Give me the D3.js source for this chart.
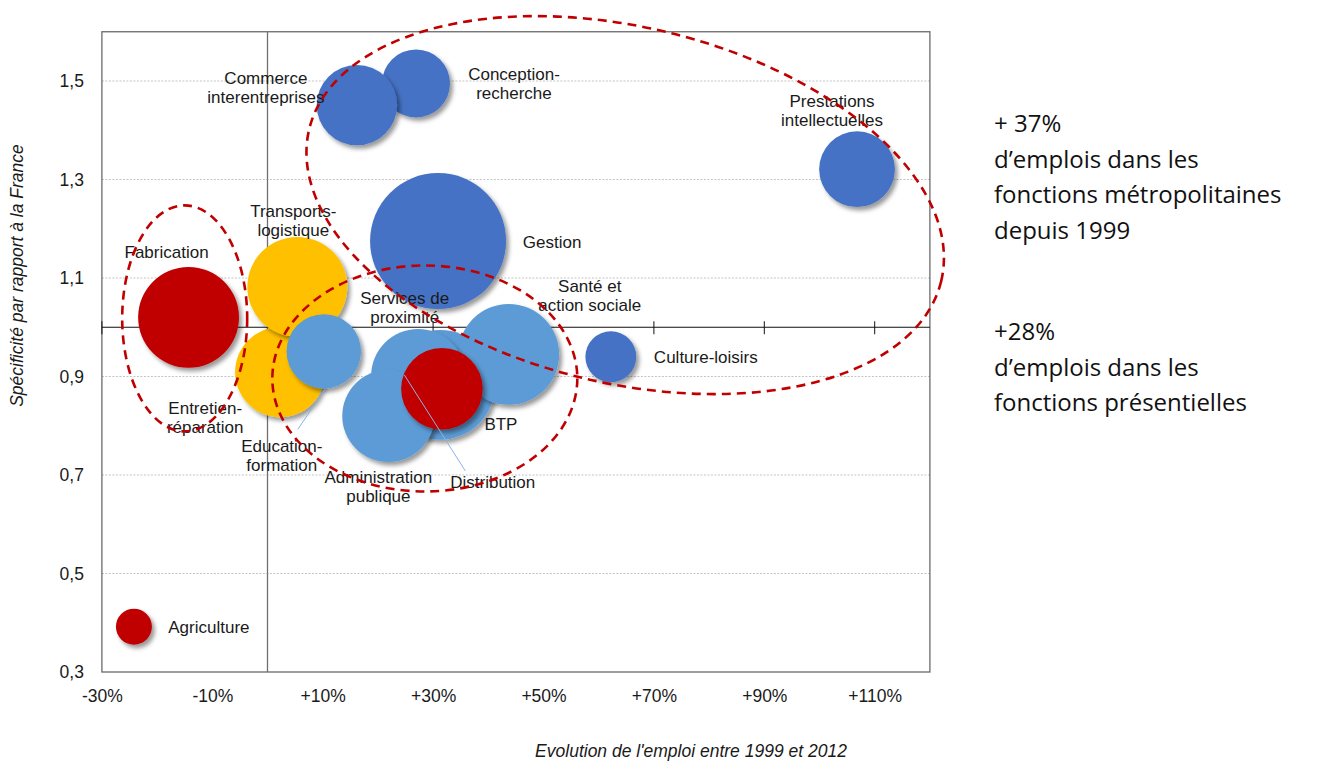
<!DOCTYPE html>
<html>
<head>
<meta charset="utf-8">
<script src="https://cdn.jsdelivr.net/npm/d3@7"></script>
<style>
  body { margin: 0; background: #fff; }
  #chart { width: 1320px; height: 761px; }
  text { font-family: "Liberation Sans", Arial, sans-serif; fill: #1a1a1a; }
  .note { font-family: "Open Sans", Lato, sans-serif; fill: #111; }
</style>
</head>
<body>
<div id="chart"></div>
<script>
// Fonctions (libellés), évolution de l'emploi 1999-2012 (%), spécificité, taille (emplois, indice)
const fonctions = ['Agriculture', 'Fabrication', 'Entretien-réparation', 'Transports-logistique',
    'Education-formation', 'Conception-recherche', 'Commerce interentreprises', 'Gestion',
    'Prestations intellectuelles', 'Culture-loisirs', 'Distribution', 'Santé et action sociale',
    'Services de proximité', 'Administration publique', 'BTP'];
const evolution = [-24.2, -14.3, 2.3, 5.4, 10.2, 26.9, 16.2, 30.9, 106.8, 62.2, 31.3, 43.7, 27.3, 21.9, 31.6];
const specificite = [0.392, 1.02, 0.909, 1.082, 0.951, 1.495, 1.451, 1.175, 1.321, 0.94, 0.883, 0.945, 0.901, 0.82, 0.875];
const taille = [7, 55, 44, 54, 30, 25, 35, 100, 31, 14, 65, 55, 48, 46, 36];
const famille = ['prod', 'prod', 'pres', 'pres', 'presBleu', 'metro', 'metro', 'metro',
    'metro', 'metro', 'presBleu', 'presBleu', 'presBleu', 'presBleu', 'prod'];

const xTicks = [-30, -10, 10, 30, 50, 70, 90, 110];
const yTicks = [0.3, 0.5, 0.7, 0.9, 1.1, 1.3, 1.5];

const noteMetro = ['+ 37%', 'd\u2019emplois dans les', 'fonctions métropolitaines', 'depuis 1999'];
const notePres = ['+28%', 'd\u2019emplois dans les', 'fonctions présentielles'];

const couleurs = {prod: '#C00000', pres: '#FFC000', metro: '#4472C4', presBleu: '#5B9BD5'};

// position des étiquettes (décalage en px depuis le centre de la bulle)
const etiquettes = {
    'Agriculture': {dx: 75, dy: 6.5, lines: ['Agriculture']},
    'Fabrication': {dx: -22, dy: -59.5, lines: ['Fabrication']},
    'Entretien-réparation': {dx: -75, dy: 42, lines: ['Entretien-', 'réparation']},
    'Transports-logistique': {dx: -4, dy: -70, lines: ['Transports-', 'logistique']},
    'Education-formation': {dx: -42, dy: 100.5, lines: ['Education-', 'formation'], leader: [[1, 38], [-26, 78]]},
    'Conception-recherche': {dx: 98, dy: -3.5, lines: ['Conception-', 'recherche']},
    'Commerce interentreprises': {dx: -91, dy: -21, lines: ['Commerce', 'interentreprises']},
    'Gestion': {dx: 114, dy: 7, lines: ['Gestion']},
    'Prestations intellectuelles': {dx: -25, dy: -62, lines: ['Prestations', 'intellectuelles']},
    'Culture-loisirs': {dx: 95, dy: 6, lines: ['Culture-loisirs']},
    'Distribution': {dx: 52.5, dy: 103, lines: ['Distribution'], leader: [[-36, -10], [25, 86]]},
    'Santé et action sociale': {dx: 81, dy: -62.5, lines: ['Santé et', 'action sociale']},
    'Services de proximité': {dx: -13.5, dy: -72, lines: ['Services de', 'proximité']},
    'Administration publique': {dx: -10, dy: 67, lines: ['Administration', 'publique']},
    'BTP': {dx: 59, dy: 41, lines: ['BTP']}
};

// ellipses en pointillés (centre en unités du graphique)
const ellipses = [
    {cx: 64.8, cy: 1.248, rx: 325, ry: 178, rot: 13.5},
    {cx: -15, cy: 1.018, rx: 62.5, ry: 113, rot: 0},
    {cx: 28.5, cy: 0.896, rx: 152.5, ry: 113, rot: 0}
];

function drawChart() {
    const container = d3.select('#chart');
    const margin = {top: 31.75, left: 101.9};
    const width = 828;
    const height = 640.25;

    const svg = container.append('svg')
        .attr('width', 1320)
        .attr('height', 761);

    const defs = svg.append('defs');
    const shadow = defs.append('filter')
        .attr('id', 'ombre')
        .attr('x', '-30%').attr('y', '-30%')
        .attr('width', '170%').attr('height', '170%');
    shadow.append('feDropShadow')
        .attr('dx', 3).attr('dy', 3.5)
        .attr('stdDeviation', 2.2)
        .attr('flood-color', '#000')
        .attr('flood-opacity', 0.4);

    const g = svg.append('g')
        .attr('transform', `translate(${margin.left},${margin.top})`);

    const x = d3.scaleLinear().domain([-30, 120]).range([0, width]);
    const y = d3.scaleLinear().domain([0.3, 1.6]).range([height, 0]);
    const r = d3.scaleSqrt().domain([0, 100]).range([0, 68]);

    // grille horizontale
    g.selectAll('.grid')
        .data(yTicks.filter(d => d > 0.3))
        .enter()
        .append('line')
        .attr('x1', 0).attr('x2', width)
        .attr('y1', d => y(d)).attr('y2', d => y(d))
        .attr('stroke', '#c3c3c3')
        .attr('stroke-width', 1)
        .attr('stroke-dasharray', '2,1.5');

    g.append('rect')
        .attr('width', width).attr('height', height)
        .attr('fill', 'none')
        .attr('stroke', '#6a6a6a')
        .attr('stroke-width', 1.3);

    // axes croisés
    g.append('line')
        .attr('x1', x(0)).attr('x2', x(0))
        .attr('y1', 0).attr('y2', height)
        .attr('stroke', '#6f6f6f')
        .attr('stroke-width', 1.3);

    g.append('line')
        .attr('x1', 0).attr('x2', width)
        .attr('y1', y(1)).attr('y2', y(1))
        .attr('stroke', '#111')
        .attr('stroke-width', 1.2);

    g.selectAll('.tickmark')
        .data(xTicks)
        .enter()
        .append('line')
        .attr('x1', d => x(d)).attr('x2', d => x(d))
        .attr('y1', y(1) - 6).attr('y2', y(1) + 7)
        .attr('stroke', '#111')
        .attr('stroke-width', 1);

    const xAxis = g.append('g')
        .attr('transform', `translate(0,${height})`)
        .call(d3.axisBottom(x)
            .tickValues(xTicks)
            .tickSize(0)
            .tickPadding(18)
            .tickFormat(d => (d > 0 ? '+' : '') + d + '%'));
    xAxis.select('.domain').remove();
    xAxis.selectAll('text')
        .style('font-family', '"Liberation Sans", Arial, sans-serif')
        .style('font-size', '17.5px')
        .attr('fill', '#1a1a1a');

    const yAxis = g.append('g')
        .call(d3.axisLeft(y)
            .tickValues(yTicks)
            .tickSize(0)
            .tickPadding(18)
            .tickFormat(d => d.toFixed(1).replace('.', ',')));
    yAxis.select('.domain').remove();
    yAxis.selectAll('text')
        .style('font-family', '"Liberation Sans", Arial, sans-serif')
        .style('font-size', '17.5px')
        .attr('fill', '#1a1a1a');

    // titres des axes
    svg.append('text')
        .attr('text-anchor', 'middle')
        .attr('x', 691)
        .attr('y', 757)
        .style('font-size', '17.5px')
        .style('font-style', 'italic')
        .text("Evolution de l'emploi entre 1999 et 2012");

    svg.append('text')
        .attr('text-anchor', 'middle')
        .attr('transform', 'rotate(-90)')
        .attr('x', -275.5)
        .attr('y', 23)
        .style('font-size', '17.5px')
        .style('font-style', 'italic')
        .text('Spécificité par rapport à la France');

    const data = fonctions.map((name, i) => ({
        name,
        evolution: evolution[i],
        specificite: specificite[i],
        taille: taille[i],
        famille: famille[i]
    }));

    // bulles
    g.selectAll('.bulle')
        .data(data)
        .enter()
        .append('circle')
        .attr('class', 'bulle')
        .attr('cx', d => x(d.evolution))
        .attr('cy', d => y(d.specificite))
        .attr('r', d => r(d.taille))
        .attr('fill', d => couleurs[d.famille])
        .attr('filter', 'url(#ombre)');

    // traits de rappel
    data.filter(d => etiquettes[d.name].leader).forEach(d => {
        const [p1, p2] = etiquettes[d.name].leader;
        const cx = x(d.evolution), cy = y(d.specificite);
        g.append('line')
            .attr('x1', cx + p1[0]).attr('y1', cy + p1[1])
            .attr('x2', cx + p2[0]).attr('y2', cy + p2[1])
            .attr('stroke', '#8db4e2')
            .attr('stroke-width', 1);
    });

    // étiquettes
    data.forEach(d => {
        const lab = etiquettes[d.name];
        const t = g.append('text')
            .attr('text-anchor', 'middle')
            .style('font-size', '17px')
            .attr('x', x(d.evolution) + lab.dx)
            .attr('y', y(d.specificite) + lab.dy);
        lab.lines.forEach((line, k) => {
            t.append('tspan')
                .attr('x', x(d.evolution) + lab.dx)
                .attr('dy', k === 0 ? 0 : 19)
                .text(line);
        });
    });

    // ellipses
    g.selectAll('.ellipse')
        .data(ellipses)
        .enter()
        .append('ellipse')
        .attr('transform', d => `translate(${x(d.cx)},${y(d.cy)}) rotate(${d.rot})`)
        .attr('rx', d => d.rx)
        .attr('ry', d => d.ry)
        .attr('fill', 'none')
        .attr('stroke', '#C00000')
        .attr('stroke-width', 2.6)
        .attr('stroke-dasharray', '9,6');

    // textes de droite
    const blocs = [{lines: noteMetro, y: 132}, {lines: notePres, y: 340}];
    blocs.forEach(b => {
        b.lines.forEach((line, k) => {
            svg.append('text')
                .attr('class', 'note')
                .attr('x', 994)
                .attr('y', b.y + k * 35.5)
                .style('font-size', '24px')
                .text(line);
        });
    });
}

drawChart();
</script>
</body>
</html>
